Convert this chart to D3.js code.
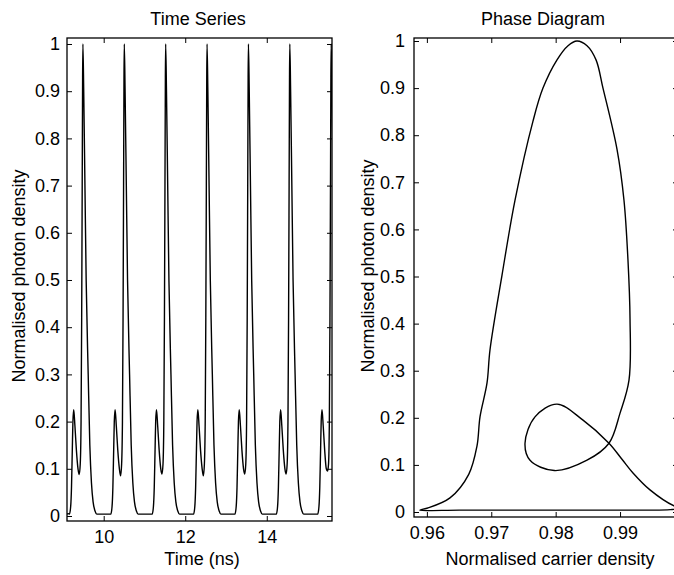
<!DOCTYPE html>
<html>
<head>
<meta charset="utf-8">
<script src="https://cdn.jsdelivr.net/npm/d3@7"></script>
<style>
html, body { margin: 0; padding: 0; background: #fff; }
svg { display: block; font-family: "Liberation Sans", Arial, Helvetica, sans-serif; }
</style>
</head>
<body>
<svg id="chart" width="674" height="575"></svg>
<script>
// Time series: normalised photon density against time (ns)
const tsTime = [
  9.10, 9.13,
  9.16, 9.19, 9.21, 9.23, 9.245, 9.265, 9.295, 9.33, 9.37, 9.40, 9.425, 9.445, 9.46, 9.473, 9.483, 9.49,
  9.51, 9.54, 9.57, 9.62, 9.66, 9.70, 9.74, 9.79, 9.83,
  10.175, 10.205, 10.225, 10.245, 10.26, 10.28, 10.31, 10.345, 10.385, 10.415, 10.44, 10.46, 10.475, 10.488, 10.498, 10.505,
  10.525, 10.555, 10.585, 10.635, 10.675, 10.715, 10.755, 10.805, 10.845,
  11.19, 11.22, 11.24, 11.26, 11.275, 11.295, 11.325, 11.36, 11.40, 11.43, 11.455, 11.475, 11.49, 11.503, 11.513, 11.52,
  11.54, 11.57, 11.60, 11.65, 11.69, 11.73, 11.77, 11.82, 11.86,
  12.205, 12.235, 12.255, 12.275, 12.29, 12.31, 12.34, 12.375, 12.415, 12.445, 12.47, 12.49, 12.505, 12.518, 12.528, 12.535,
  12.555, 12.585, 12.615, 12.665, 12.705, 12.745, 12.785, 12.835, 12.875,
  13.22, 13.25, 13.27, 13.29, 13.305, 13.325, 13.355, 13.39, 13.43, 13.46, 13.485, 13.505, 13.52, 13.533, 13.543, 13.55,
  13.57, 13.60, 13.63, 13.68, 13.72, 13.76, 13.80, 13.85, 13.89,
  14.235, 14.265, 14.285, 14.305, 14.32, 14.34, 14.37, 14.405, 14.445, 14.475, 14.50, 14.52, 14.535, 14.548, 14.558, 14.565,
  14.585, 14.615, 14.645, 14.695, 14.735, 14.775, 14.815, 14.865, 14.905,
  15.25, 15.28, 15.30, 15.32, 15.335, 15.355, 15.385, 15.42, 15.46, 15.49, 15.515, 15.535, 15.55, 15.563, 15.573, 15.58,
  15.60, 15.63
];
const tsPhoton = [
  0.004, 0.005,
  0.004, 0.02, 0.06, 0.14, 0.20, 0.225, 0.19, 0.14, 0.10, 0.088, 0.11, 0.20, 0.42, 0.70, 0.93, 1.0,
  0.9, 0.7, 0.5, 0.3, 0.15, 0.07, 0.03, 0.01, 0.004,
  0.004, 0.02, 0.06, 0.14, 0.20, 0.225, 0.19, 0.14, 0.10, 0.085, 0.11, 0.20, 0.42, 0.70, 0.93, 1.0,
  0.9, 0.7, 0.5, 0.3, 0.15, 0.07, 0.03, 0.01, 0.004,
  0.004, 0.02, 0.06, 0.14, 0.20, 0.225, 0.19, 0.14, 0.10, 0.089, 0.11, 0.20, 0.42, 0.70, 0.93, 1.0,
  0.9, 0.7, 0.5, 0.3, 0.15, 0.07, 0.03, 0.01, 0.004,
  0.004, 0.02, 0.06, 0.14, 0.20, 0.225, 0.19, 0.14, 0.10, 0.085, 0.11, 0.20, 0.42, 0.70, 0.93, 1.0,
  0.9, 0.7, 0.5, 0.3, 0.15, 0.07, 0.03, 0.01, 0.004,
  0.004, 0.02, 0.06, 0.14, 0.20, 0.225, 0.19, 0.14, 0.10, 0.089, 0.11, 0.20, 0.42, 0.70, 0.93, 1.0,
  0.9, 0.7, 0.5, 0.3, 0.15, 0.07, 0.03, 0.01, 0.004,
  0.004, 0.02, 0.06, 0.14, 0.20, 0.225, 0.19, 0.14, 0.10, 0.089, 0.11, 0.20, 0.42, 0.70, 0.93, 1.0,
  0.9, 0.7, 0.5, 0.3, 0.15, 0.07, 0.03, 0.01, 0.004,
  0.004, 0.02, 0.06, 0.14, 0.20, 0.225, 0.19, 0.14, 0.10, 0.095, 0.11, 0.20, 0.42, 0.70, 0.93, 1.0,
  0.9, 0.7
];

// Phase diagram: one closed orbit (carrier density, photon density)
const phaseCarrier = [
  0.9589, 0.9650, 0.9750, 0.9850, 0.9935, 0.9978, 0.9994, 0.99838, 0.99465, 0.99201, 0.9903,
  0.98828, 0.98425, 0.98021, 0.97679, 0.97524, 0.97602, 0.9798, 0.98487,
  0.98828, 0.9900, 0.99139, 0.99155, 0.99123, 0.99061, 0.98953, 0.98735, 0.98627, 0.98487,
  0.98331, 0.98192, 0.98021, 0.97803, 0.97648, 0.97369, 0.97167, 0.9698, 0.96934, 0.96825,
  0.96778, 0.9665, 0.96359, 0.96002
];
const phasePhoton = [
  0.004, 0.004, 0.004, 0.004, 0.004, 0.005, 0.009, 0.013, 0.047, 0.083, 0.112,
  0.146, 0.195, 0.229, 0.202, 0.146, 0.110, 0.088, 0.110,
  0.146, 0.21, 0.28, 0.41, 0.535, 0.662, 0.77, 0.90, 0.96, 0.99,
  1.0, 0.99, 0.96, 0.90, 0.83, 0.662, 0.503, 0.344, 0.274, 0.202,
  0.14, 0.08, 0.03, 0.008
];

// Tick values and labels
const yTickValues = [0, 0.1, 0.2, 0.3, 0.4, 0.5, 0.6, 0.7, 0.8, 0.9, 1];
const yTickLabels = ["0", "0.1", "0.2", "0.3", "0.4", "0.5", "0.6", "0.7", "0.8", "0.9", "1"];
const tsXTickValues = [10, 12, 14];
const tsXTickLabels = ["10", "12", "14"];
const phaseXTickValues = [0.96, 0.97, 0.98, 0.99];
const phaseXTickLabels = ["0.96", "0.97", "0.98", "0.99"];

const svg = d3.select("#chart");
const FONT = 18;
const TICK = 5;

function drawPanel(cfg) {
  const x = d3.scaleLinear().domain(cfg.xDomain).range([cfg.left, cfg.right]);
  const y = d3.scaleLinear().domain(cfg.yDomain).range([cfg.bottom, cfg.top]);
  const g = svg.append("g");

  const clipId = "clip-" + cfg.id;
  g.append("clipPath").attr("id", clipId)
    .append("rect")
    .attr("x", cfg.left).attr("y", cfg.top)
    .attr("width", cfg.right - cfg.left).attr("height", cfg.bottom - cfg.top);

  // curve
  g.append("path")
    .attr("clip-path", "url(#" + clipId + ")")
    .attr("d", cfg.line(x, y))
    .attr("fill", "none")
    .attr("stroke", "#000")
    .attr("stroke-width", 1.4)
    .attr("stroke-linejoin", "round");

  // bottom axis (labels) and top axis (ticks only), ticks point inward
  const xMap = new Map(cfg.xTicks.map((v, i) => [v, cfg.xLabels[i]]));
  const yMap = new Map(yTickValues.map((v, i) => [v, yTickLabels[i]]));

  const bottom = g.append("g").attr("transform", `translate(0,${cfg.bottom})`)
    .call(d3.axisBottom(x).tickValues(cfg.xTicks).tickFormat(v => xMap.get(v))
      .tickSizeInner(-TICK).tickSizeOuter(0).tickPadding(9));
  const top = g.append("g").attr("transform", `translate(0,${cfg.top})`)
    .call(d3.axisTop(x).tickValues(cfg.xTicks).tickFormat("")
      .tickSizeInner(-TICK).tickSizeOuter(0));
  const left = g.append("g").attr("transform", `translate(${cfg.left},0)`)
    .call(d3.axisLeft(y).tickValues(yTickValues).tickFormat(v => yMap.get(v))
      .tickSizeInner(-TICK).tickSizeOuter(0).tickPadding(cfg.yPad));
  const right = g.append("g").attr("transform", `translate(${cfg.right},0)`)
    .call(d3.axisRight(y).tickValues(yTickValues).tickFormat("")
      .tickSizeInner(-TICK).tickSizeOuter(0));

  [bottom, top, left, right].forEach(a => {
    a.select(".domain").remove();
    a.selectAll(".tick line").attr("stroke", "#000").attr("stroke-width", 1);
    a.selectAll("text").attr("font-size", FONT).attr("fill", "#000")
      .attr("font-family", "'Liberation Sans', Arial, Helvetica, sans-serif");
  });

  // axes box
  g.append("rect")
    .attr("x", cfg.left).attr("y", cfg.top)
    .attr("width", cfg.right - cfg.left).attr("height", cfg.bottom - cfg.top)
    .attr("fill", "none").attr("stroke", "#000").attr("stroke-width", 1.3);

  // title
  g.append("text")
    .attr("x", cfg.titleX).attr("y", 25)
    .attr("text-anchor", "middle").attr("font-size", FONT)
    .text(cfg.title);

  // x label
  g.append("text")
    .attr("x", cfg.xLabelX).attr("y", 565)
    .attr("text-anchor", "middle").attr("font-size", FONT)
    .text(cfg.xLabel);

  // y label
  g.append("text")
    .attr("transform", `translate(${cfg.yLabelX},${cfg.yLabelY}) rotate(-90)`)
    .attr("text-anchor", "middle").attr("font-size", FONT)
    .text("Normalised photon density");
}

drawPanel({
  id: "ts",
  left: 67, right: 332, top: 38, bottom: 521,
  xDomain: [9.1, 15.6], yDomain: [-0.0106, 1.0127],
  xTicks: tsXTickValues, xLabels: tsXTickLabels,
  yPad: 7,
  title: "Time Series", titleX: 198,
  xLabel: "Time (ns)", xLabelX: 202,
  yLabelX: 25, yLabelY: 276,
  line: (x, y) => d3.line()
    .x(i => x(tsTime[i])).y(i => y(tsPhoton[i]))
    .curve(d3.curveMonotoneX)(d3.range(tsTime.length))
});

drawPanel({
  id: "phase",
  left: 414, right: 678, top: 38, bottom: 517,
  xDomain: [0.958, 0.999], yDomain: [-0.0106, 1.0064],
  xTicks: phaseXTickValues, xLabels: phaseXTickLabels,
  yPad: 9,
  title: "Phase Diagram", titleX: 543,
  xLabel: "Normalised carrier density", xLabelX: 550,
  yLabelX: 374, yLabelY: 266,
  line: (x, y) => d3.line()
    .x(i => x(phaseCarrier[i])).y(i => y(phasePhoton[i]))
    .curve(d3.curveCatmullRomClosed.alpha(0.5))(d3.range(phaseCarrier.length))
});
</script>
</body>
</html>
